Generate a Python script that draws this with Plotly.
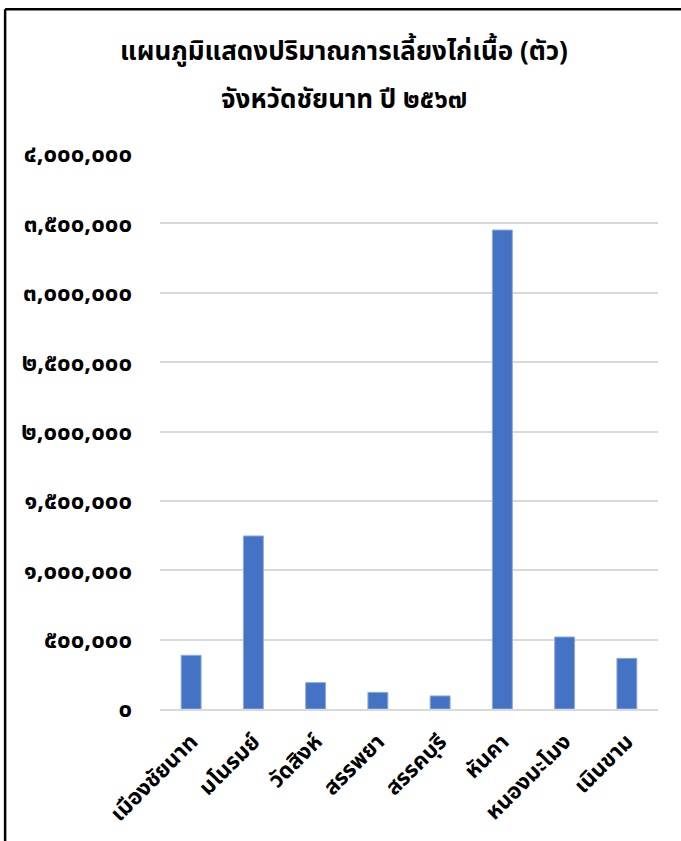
import plotly.graph_objects as go

districts = ["เมืองชัยนาท", "มโนรมย์", "วัดสิงห์", "สรรพยา", "สรรคบุรี", "หันคา", "หนองมะโมง", "เนินขาม"]
chickens = [387000, 1247000, 190000, 120000, 94000, 3452000, 519000, 365000]
y_tickvals = [0, 500000, 1000000, 1500000, 2000000, 2500000, 3000000, 3500000, 4000000]
y_ticktext = ["๐", "๕๐๐,๐๐๐", "๑,๐๐๐,๐๐๐", "๑,๕๐๐,๐๐๐", "๒,๐๐๐,๐๐๐",
              "๒,๕๐๐,๐๐๐", "๓,๐๐๐,๐๐๐", "๓,๕๐๐,๐๐๐", "๔,๐๐๐,๐๐๐"]
title_line1 = "แผนภูมิแสดงปริมาณการเลี้ยงไก่เนื้อ (ตัว)"
title_line2 = "จังหวัดชัยนาท ปี ๒๕๖๗"

FONT = "Noto Sans Thai, Tahoma, Noto Sans, sans-serif"

fig = go.Figure(go.Bar(
    x=districts, y=chickens,
    marker=dict(color="#4472c4", line=dict(color="#8eaadb", width=1)),
))

fig.update_layout(
    width=681, height=841,
    margin=dict(l=160, r=23, t=154, b=132),
    paper_bgcolor="white", plot_bgcolor="white",
    bargap=0.68,
    showlegend=False,
    font=dict(family=FONT, color="#000000"),
    xaxis=dict(tickangle=-45, tickfont=dict(size=22, family=FONT, color="#000000", weight="bold"),
               showgrid=False, showline=True, linecolor="#d9d9d9", linewidth=2,
               ticks="", fixedrange=True, ticklabelstandoff=9),
    yaxis=dict(range=[0, 4000000], tickvals=y_tickvals, ticktext=["<b>" + t + "</b>" for t in y_ticktext],
               tickfont=dict(size=24, family=FONT, color="#000000"),
               showgrid=True, gridcolor="#d9d9d9", gridwidth=1.5,
               zeroline=False, showline=False, ticks="", ticklabelstandoff=27),
    annotations=[
        dict(text="<b>" + title_line1 + "</b>", xref="paper", yref="paper", x=0.369, y=1.184,
             xanchor="center", yanchor="middle", showarrow=False,
             font=dict(size=26, family=FONT, color="#000000")),
        dict(text="<b>" + title_line2 + "</b>", xref="paper", yref="paper", x=0.369, y=1.097,
             xanchor="center", yanchor="middle", showarrow=False,
             font=dict(size=26, family=FONT, color="#000000")),
    ],
    shapes=[
        dict(type="line", xref="paper", yref="paper", x0=-0.311, x1=1.1, y0=1.261, y1=1.261,
             line=dict(color="black", width=2.5)),
        dict(type="line", xref="paper", yref="paper", x0=-0.311, x1=-0.311, y0=1.261, y1=-0.3,
             line=dict(color="black", width=2.5)),
    ],
)

fig.write_html("out.html", config={"displayModeBar": False},
               post_script="document.body.style.margin='0';document.body.style.overflow='hidden';")
